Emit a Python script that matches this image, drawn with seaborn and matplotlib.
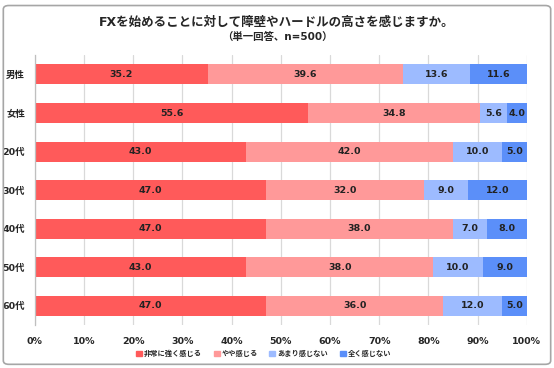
import matplotlib
matplotlib.use("Agg")
import matplotlib.pyplot as plt
import seaborn as sns
import pandas as pd
import numpy as np
from matplotlib.patches import FancyBboxPatch

# Data
groups = ["男性", "女性", "20代", "30代", "40代", "50代", "60代"]
veryStrong = [35.2, 55.6, 43.0, 47.0, 47.0, 43.0, 47.0]
somewhat = [39.6, 34.8, 42.0, 32.0, 38.0, 38.0, 36.0]
notMuch = [13.6, 5.6, 10.0, 9.0, 7.0, 10.0, 12.0]
notAtAll = [11.6, 4.0, 5.0, 12.0, 8.0, 9.0, 5.0]
seriesNames = ["非常に強く感じる", "やや感じる", "あまり感じない", "全く感じない"]
colors = ["#FF5A5A", "#FF9999", "#9DBBFF", "#5B8FF9"]
xTicks = [0, 10, 20, 30, 40, 50, 60, 70, 80, 90, 100]

sns.set_style("white")
plt.rcParams["font.family"] = ["DejaVu Sans", "Noto Sans CJK JP"]

df = pd.DataFrame(
    {"group": groups, seriesNames[0]: veryStrong, seriesNames[1]: somewhat,
     seriesNames[2]: notMuch, seriesNames[3]: notAtAll}
)
values = df[seriesNames].to_numpy()
cum = values.cumsum(axis=1)

fig = plt.figure(figsize=(5.54, 3.68), dpi=100)
ax = fig.add_axes([0.063, 0.117, 0.888, 0.733])

# draw stacked bars from the right-most cumulative down so each overlays the next
for i in range(len(seriesNames) - 1, -1, -1):
    sns.barplot(
        x=cum[:, i], y=groups, orient="h", color=colors[i], ax=ax,
        width=0.52, saturation=1, linewidth=0, zorder=2,
    )

for r in range(len(groups)):
    left = 0
    for i in range(len(seriesNames)):
        v = values[r, i]
        ax.text(left + v / 2, r, f"{v:.1f}", ha="center", va="center",
                fontsize=6.8, fontweight="bold", color="#222222", zorder=3)
        left += v

ax.set_xlim(0, 100)
ax.set_ylim(len(groups) - 0.5, -0.5)
ax.set_xticks(xTicks)
ax.set_xticklabels([f"{t}%" for t in xTicks], fontsize=6.8, fontweight="bold")
ax.tick_params(axis="x", length=4, color="#D9D9D9", pad=5)
ax.tick_params(axis="y", length=0, pad=7)
for lbl in ax.get_yticklabels():
    lbl.set_fontsize(6.8)
    lbl.set_fontweight("bold")
ax.set_xlabel("")
ax.set_ylabel("")
ax.xaxis.grid(True, color="#D9D9D9", linewidth=0.9, zorder=0)
ax.set_axisbelow(True)
for s in ["top", "right", "bottom"]:
    ax.spines[s].set_visible(False)
ax.spines["left"].set_color("#BFBFBF")
ax.spines["left"].set_linewidth(0.9)

# legend
handles = [plt.Rectangle((0, 0), 1, 1, color=c) for c in colors]
fig.legend(handles, seriesNames, loc="center", bbox_to_anchor=(0.476, 0.04),
           ncol=4, frameon=False, prop={"weight": "bold", "size": 5.2},
           handlelength=0.8, handleheight=0.8, handletextpad=0.3, columnspacing=1.6)

fig.text(0.5, 0.94, "FXを始めることに対して障壁やハードルの高さを感じますか。",
         ha="center", va="center", fontsize=9, fontweight="bold")
fig.text(0.5, 0.897, "（単一回答、n=500）", ha="center", va="center",
         fontsize=7.5, fontweight="bold")

border = FancyBboxPatch((0.006, 0.01), 0.988, 0.975, boxstyle="round,pad=0,rounding_size=0.01",
                        transform=fig.transFigure, fill=False, edgecolor="#A6A6A6",
                        linewidth=1.2)
fig.patches.append(border)

fig.savefig("out.png", dpi=100)
